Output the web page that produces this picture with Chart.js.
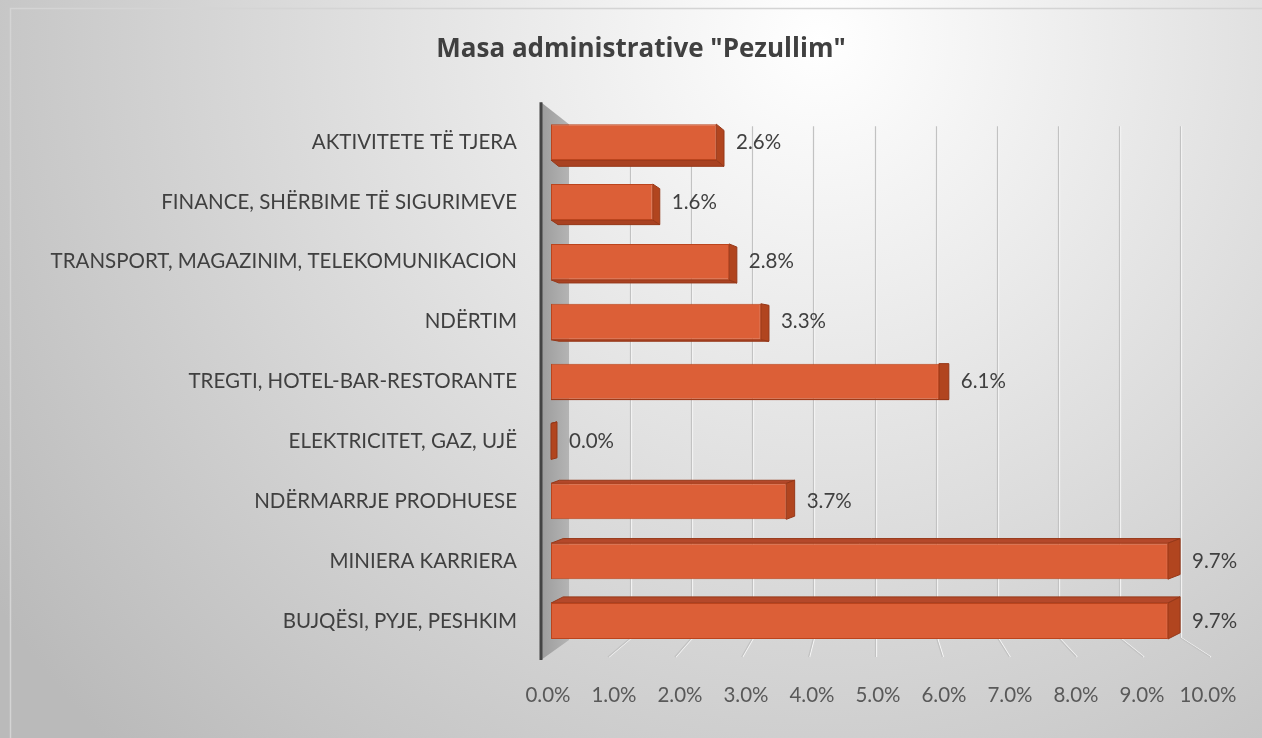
<!DOCTYPE html>
<html>
<head>
<meta charset="utf-8">
<script src="https://cdn.jsdelivr.net/npm/chart.js@4/dist/chart.umd.min.js"></script>
<style>
  html, body { margin: 0; padding: 0; background: #fff; }
  canvas { display: block; }
</style>
</head>
<body>
<canvas id="chart" width="1262" height="738"></canvas>
<script>
// data, top to bottom as in the picture
const categories = [
    'AKTIVITETE TË TJERA',
    'FINANCE, SHËRBIME TË SIGURIMEVE',
    'TRANSPORT, MAGAZINIM, TELEKOMUNIKACION',
    'NDËRTIM',
    'TREGTI, HOTEL-BAR-RESTORANTE',
    'ELEKTRICITET, GAZ, UJË',
    'NDËRMARRJE PRODHUESE',
    'MINIERA KARRIERA',
    'BUJQËSI, PYJE, PESHKIM'
]
const values = [2.6, 1.6, 2.8, 3.3, 6.1, 0.0, 3.7, 9.7, 9.7]
const gridTicks = [1, 2, 3, 4, 5, 6, 7, 8, 9, 10]
const chartTitle = 'Masa administrative "Pezullim"'

const FONT = 'Lato'
const TEXT = '#404040'

// side depth grows a little toward the right (perspective)
function depthX(len) {
    return 6 + len * 0.01
}

const backgroundPlugin = {
    id: 'bg',
    beforeDraw(chart) {
        const ctx = chart.ctx
        const w = chart.width, h = chart.height
        const g = ctx.createRadialGradient(820, 40, 0, 820, 40, 1000)
        g.addColorStop(0, '#ffffff')
        g.addColorStop(1, '#bababa')
        ctx.save()
        ctx.fillStyle = g
        ctx.fillRect(0, 0, w, h)
        ctx.strokeStyle = '#d4d4d4'
        ctx.lineWidth = 1.5
        ctx.strokeRect(10.5, 8.5, w, h)
        ctx.restore()
    }
}

// back wall grid, floor lines, left wall and bar depth faces
const depthPlugin = {
    id: 'depth',
    beforeDatasetsDraw(chart) {
        const ctx = chart.ctx
        const area = chart.chartArea
        const xb = chart.scales.xb
        const x2 = chart.scales.x2
        ctx.save()
        // grid lines
        gridTicks.forEach(v => {
            const bx = Math.round(xb.getPixelForValue(v)) + 0.5
            const fx = x2.getPixelForValue(v) + (v * 0.9 - 7)
            const pts = [[bx, area.top + 14], [bx, area.bottom - 13], [fx, area.bottom + 6]]
            ;[['#f8f8f8', 1], ['#c2c2c2', 0]].forEach(([col, off]) => {
                ctx.strokeStyle = col
                ctx.lineWidth = 1.2
                ctx.beginPath()
                ctx.moveTo(pts[0][0] + off, pts[0][1])
                ctx.lineTo(pts[1][0] + off, pts[1][1])
                ctx.lineTo(pts[2][0] + off, pts[2][1])
                ctx.stroke()
            })
        })
        // left wall
        const wx0 = x2.getPixelForValue(0) - 7
        const wx1 = xb.getPixelForValue(0)
        const wg = ctx.createLinearGradient(wx0, 0, wx1, 0)
        wg.addColorStop(0, '#9c9c9c')
        wg.addColorStop(1, '#b4b4b4')
        ctx.fillStyle = wg
        ctx.beginPath()
        ctx.moveTo(wx0, area.top - 10)
        ctx.lineTo(wx1, area.top + 12)
        ctx.lineTo(wx1, area.bottom - 11)
        ctx.lineTo(wx0, area.bottom + 9)
        ctx.closePath()
        ctx.fill()
        ctx.strokeStyle = '#444444'
        ctx.lineWidth = 3
        ctx.beginPath()
        ctx.moveTo(wx0, area.top - 10)
        ctx.lineTo(wx0, area.bottom + 9)
        ctx.stroke()

        // bar depth faces
        const cy = (area.top + area.bottom) / 2
        const meta = chart.getDatasetMeta(0)
        ctx.lineWidth = 1
        ctx.strokeStyle = '#963819'
        meta.data.forEach(el => {
            const p = el.getProps(['x', 'y', 'base', 'height'], true)
            const x0 = p.base, x1 = p.x
            const y0 = p.y - p.height / 2, y1 = p.y + p.height / 2
            const dx = depthX(x1 - x0), dy = (cy - p.y) * 0.026
            // top or bottom face
            const ey = dy < 0 ? y0 : y1
            ctx.fillStyle = dy < 0 ? '#b4482a' : '#a94222'
            ctx.beginPath()
            ctx.moveTo(x0, ey)
            ctx.lineTo(x0 + dx, ey + dy)
            ctx.lineTo(x1 + dx, ey + dy)
            ctx.lineTo(x1, ey)
            ctx.closePath()
            ctx.fill()
            ctx.stroke()
            // right face
            ctx.fillStyle = '#b1451f'
            ctx.beginPath()
            ctx.moveTo(x1, y0)
            ctx.lineTo(x1 + dx, y0 + dy)
            ctx.lineTo(x1 + dx, y1 + dy)
            ctx.lineTo(x1, y1)
            ctx.closePath()
            ctx.fill()
            ctx.stroke()
        })
        ctx.restore()
    },
    afterDatasetsDraw(chart) {
        const ctx = chart.ctx
        const meta = chart.getDatasetMeta(0)
        ctx.save()
        ctx.font = '20.5px ' + FONT
        ctx.fillStyle = TEXT
        ctx.textBaseline = 'middle'
        ctx.textAlign = 'left'
        meta.data.forEach((el, i) => {
            const p = el.getProps(['x', 'y', 'base'], true)
            ctx.fillText(values[i].toFixed(1) + '%', p.x + depthX(p.x - p.base) + 12, p.y)
        })
        ctx.restore()
    }
}

const ctx = document.getElementById('chart').getContext('2d')
new Chart(ctx, {
    type: 'bar',
    data: {
        labels: categories,
        datasets: [{
            label: 'Pezullim',
            data: values,
            xAxisID: 'x',
            yAxisID: 'y',
            backgroundColor: '#dc5f37',
            borderColor: '#bb441d',
            borderWidth: 1,
            borderSkipped: false,
            barPercentage: 0.75,
            categoryPercentage: 0.8
        }]
    },
    options: {
        indexAxis: 'y',
        responsive: false,
        animation: false,
        events: [],
        layout: { padding: { left: 20, right: 0, top: 0, bottom: 0 } },
        plugins: {
            legend: { display: false },
            tooltip: { enabled: false },
            title: {
                display: true,
                text: chartTitle,
                color: TEXT,
                font: { family: 'Open Sans', size: 26, weight: 'bold' },
                padding: { top: 34, bottom: 47 }
            }
        },
        scales: {
            y: {
                type: 'category',
                offset: true,
                grid: { display: false, drawTicks: false },
                border: { display: false },
                ticks: { color: TEXT, font: { family: FONT, size: 20.5 }, padding: 31 },
                afterFit(scale) { scale.width = 528 }
            },
            x: {
                type: 'linear',
                display: false,
                min: -0.047,
                max: 10.33
            },
            xb: {
                type: 'linear',
                axis: 'x',
                display: false,
                min: -0.344,
                max: 10.458
            },
            x2: {
                type: 'linear',
                axis: 'x',
                position: 'bottom',
                min: 0,
                max: 10,
                grid: { display: false, drawTicks: false },
                border: { display: false },
                ticks: {
                    stepSize: 1,
                    color: '#595959',
                    font: { family: FONT, size: 20.5 },
                    padding: 32,
                    maxRotation: 0,
                    callback: v => v.toFixed(1) + '%'
                },
                afterFit(scale) {
                    scale.height = 87
                    scale.paddingLeft = 0
                    scale.paddingRight = 54
                }
            }
        }
    },
    plugins: [backgroundPlugin, depthPlugin]
})
</script>
</body>
</html>
